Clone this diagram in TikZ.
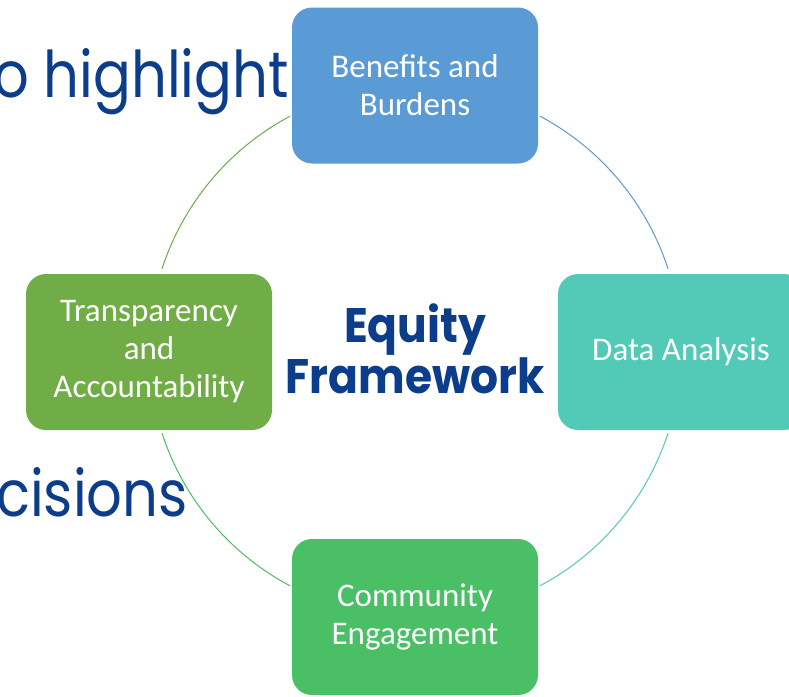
\documentclass[tikz,border=0pt]{standalone}
\usepackage{fontspec}
\setmainfont{Carlito}
\newfontfamily\gothic{Poppins}
\definecolor{cblue}{HTML}{5B9BD5}
\definecolor{cteal}{HTML}{53CAB8}
\definecolor{cgreen}{HTML}{4ABF66}
\definecolor{colive}{HTML}{70AD47}
\definecolor{navy}{HTML}{0B3D8A}
\tikzset{
  box/.style={rounded corners=20pt, minimum width=246pt, minimum height=156pt,
    align=center, text=white, font=\fontsize{33}{38}\selectfont, inner sep=0pt},
  ring/.style={line width=1pt},
  bgtext/.style={text=navy, font=\gothic\fontsize{56}{60}\selectfont, inner sep=0pt},
}
\begin{document}
\begin{tikzpicture}[x=1pt,y=-1pt]
\useasboundingbox (0,0) rectangle (789,696);
\clip (0,0) rectangle (789,696);
\fill[white] (0,0) rectangle (789,696);
% background slide text
\node[bgtext, anchor=base east] (hl) at (289,97) {\scalebox{1}[1.15]{o highlight}};
\node[bgtext, anchor=base east] (dc) at (188,516) {\scalebox{1}[1.15]{cisions}};
% ring
\coordinate (c) at (415,351);
\draw[ring, cblue]  (c) ++(-62:266) arc[start angle=-62, end angle=-18, radius=266];
\draw[ring, cteal]  (c) ++(18:266)  arc[start angle=18,  end angle=62,  radius=266];
\draw[ring, cgreen] (c) ++(118:266) arc[start angle=118, end angle=162, radius=266];
\draw[ring, colive] (c) ++(198:266) arc[start angle=198, end angle=242, radius=266];
% boxes
\node[box, fill=cblue]  (ben)  at (415,85.5) {Benefits and\\Burdens};
\node[box, fill=cteal]  (data) at (681,352) {Data Analysis};
\node[box, fill=cgreen] (comm) at (415,617) {Community\\Engagement};
\node[box, fill=colive] (tran) at (149,352) {Transparency\\and\\Accountability};
% centre title
\node[align=center, text=navy, font=\gothic\bfseries\fontsize{44}{51}\selectfont] (eq) at (415,349) {\scalebox{1}[1.1]{Equity}\\\scalebox{1}[1.1]{Framework}};
\end{tikzpicture}
\end{document}
